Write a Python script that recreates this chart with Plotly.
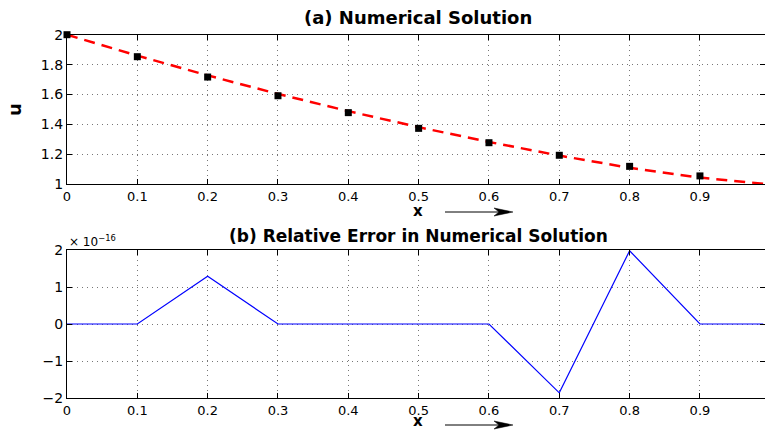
import plotly.graph_objects as go

# Grid nodes and numerical solution u(x)
x_nodes = [0.0, 0.1, 0.2, 0.3, 0.4, 0.5, 0.6, 0.7, 0.8, 0.9]
u_numeric = [2.000, 1.853, 1.717, 1.592, 1.479, 1.374, 1.278, 1.194, 1.120, 1.056]

# Reference curve (dashed)
x_curve = [0.0, 0.1, 0.2, 0.3, 0.4, 0.5, 0.6, 0.7, 0.8, 0.9, 0.99]
u_curve = [2.000, 1.860, 1.728, 1.604, 1.489, 1.382, 1.283, 1.192, 1.110, 1.045, 1.004]

# Relative error (scaled by 1e-16)
x_err = [0.0, 0.1, 0.2, 0.3, 0.4, 0.5, 0.6, 0.7, 0.8, 0.9, 0.99]
rel_err = [0.0, 0.0, 1.29, 0.0, 0.0, 0.0, 0.0, -1.86, 1.98, 0.0, 0.0]

x_ticks = [0, 0.1, 0.2, 0.3, 0.4, 0.5, 0.6, 0.7, 0.8, 0.9]
x_ticktext = ["0", "0.1", "0.2", "0.3", "0.4", "0.5", "0.6", "0.7", "0.8", "0.9"]
u_ticks = [1, 1.2, 1.4, 1.6, 1.8, 2]
u_ticktext = ["1", "1.2", "1.4", "1.6", "1.8", "2"]
e_ticks = [-2, -1, 0, 1, 2]
e_ticktext = ["\u22122", "\u22121", "0", "1", "2"]

W, H = 765, 432
FONT = "DejaVu Sans, Verdana, sans-serif"
L, R = 67, 765


def py(pix):
    """Convert a pixel row (from top) to paper y."""
    return (H - pix) / H


def px(pix):
    """Convert a pixel column to paper x (plot area spans L..R)."""
    return (pix - L) / (R - L)


fig = go.Figure()

fig.add_trace(go.Scatter(
    x=x_curve, y=u_curve, mode="lines",
    line=dict(color="#ff0000", width=2.5, dash="11px,7px"),
    xaxis="x", yaxis="y", showlegend=False,
))
fig.add_trace(go.Scatter(
    x=x_nodes, y=u_numeric, mode="markers", cliponaxis=False,
    marker=dict(symbol="square", size=7, color="black"),
    xaxis="x", yaxis="y", showlegend=False,
))
fig.add_trace(go.Scatter(
    x=x_err, y=rel_err, mode="lines",
    line=dict(color="#0000ff", width=1.2),
    xaxis="x2", yaxis="y2", showlegend=False,
))

xrange = [0, 0.9925]
axis_common = dict(
    showline=True, linecolor="black", linewidth=1.2, mirror="ticks",
    ticks="inside", ticklen=5, tickcolor="black",
    showgrid=True, gridcolor="#777", griddash="1px,4px", gridwidth=1,
    zeroline=False, automargin=False,
    tickfont=dict(family=FONT, size=14, color="black"),
)
xtick_font = dict(family=FONT, size=13, color="black")
title_font = dict(family=FONT, size=18, color="black")
xlab_font = dict(family=FONT, size=15, color="black")

fig.update_layout(
    width=W, height=H,
    margin=dict(l=L, r=W - R, t=0, b=0),
    paper_bgcolor="white", plot_bgcolor="white",
    xaxis=dict(axis_common, domain=[0, 1], range=xrange, anchor="y",
               tickvals=x_ticks, ticktext=x_ticktext, tickfont=xtick_font),
    yaxis=dict(axis_common, domain=[py(184.3), py(34.7)], range=[1, 2], anchor="x",
               tickvals=u_ticks, ticktext=u_ticktext,
               title=dict(text="<b>u</b>", font=title_font, standoff=14)),
    xaxis2=dict(axis_common, domain=[0, 1], range=xrange, anchor="y2",
                tickvals=x_ticks, ticktext=x_ticktext, tickfont=xtick_font),
    yaxis2=dict(axis_common, domain=[py(398), py(250)], range=[-2, 2], anchor="x2",
                tickvals=e_ticks, ticktext=e_ticktext),
)

annotations = [
    dict(text="<b>(a) Numerical Solution</b>", x=px(418), y=py(18),
         xref="paper", yref="paper", xanchor="center", yanchor="middle", showarrow=False,
         font=dict(family=FONT, size=18, color="black")),
    dict(text="<b>(b) Relative Error in Numerical Solution</b>", x=px(418), y=py(236),
         xref="paper", yref="paper", xanchor="center", yanchor="middle", showarrow=False,
         font=dict(family=FONT, size=17, color="black")),
    dict(text="\u00d7 10<sup>\u221216</sup>", x=px(67), y=py(241),
         xref="paper", yref="paper", xanchor="left", yanchor="middle", showarrow=False,
         font=dict(family=FONT, size=12, color="black")),
    # x-axis labels under each panel
    dict(text="<b>x</b>", x=px(418), y=py(222), xref="paper", yref="paper",
         xanchor="center", yanchor="bottom", showarrow=False, font=xlab_font),
    dict(text="<b>x</b>", x=px(418), y=py(432), xref="paper", yref="paper",
         xanchor="center", yanchor="bottom", showarrow=False, font=xlab_font),
]
fig.update_layout(annotations=annotations)

# Direction arrows next to the x labels: shaft plus notched head
shapes = []
for row in (212, 425):
    shapes.append(dict(type="line", xref="paper", yref="paper",
                       x0=px(445), x1=px(505), y0=py(row), y1=py(row),
                       line=dict(color="black", width=1)))
    head = (f"M {px(513)},{py(row)} L {px(494)},{py(row - 4)} "
            f"L {px(499)},{py(row)} L {px(494)},{py(row + 4)} Z")
    shapes.append(dict(type="path", xref="paper", yref="paper", path=head,
                       fillcolor="black", line=dict(color="black", width=0.5)))
fig.update_layout(shapes=shapes)

fig.write_html("out.html")
